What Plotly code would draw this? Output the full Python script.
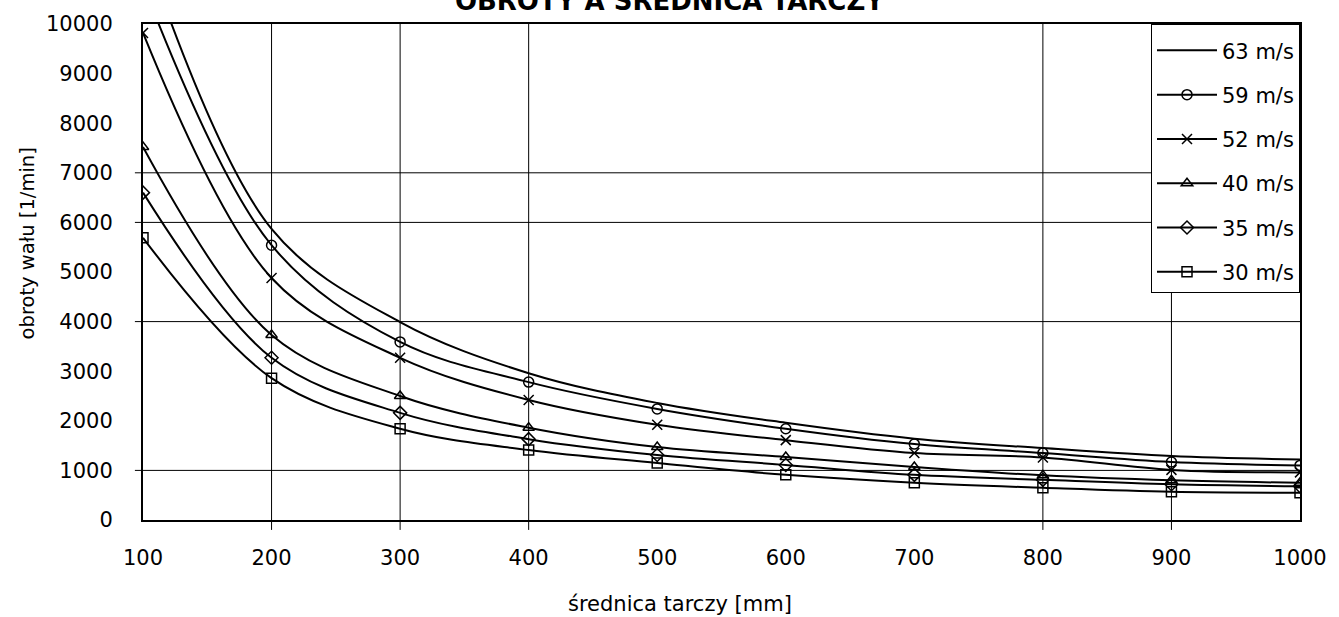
import plotly.graph_objects as go

# średnica tarczy [mm]
diameters = [100, 200, 300, 400, 500, 600, 700, 800, 900, 1000]

# obroty wału [1/min]
n_63 = [11600, 5870, 3990, 2960, 2360, 1960, 1640, 1450, 1290, 1220]
n_59 = [10800, 5540, 3590, 2780, 2240, 1840, 1530, 1350, 1170, 1100]
n_52 = [9820, 4880, 3270, 2420, 1920, 1610, 1350, 1260, 1010, 960]
n_40 = [7520, 3730, 2500, 1860, 1470, 1270, 1070, 900, 800, 750]
n_35 = [6600, 3270, 2160, 1630, 1310, 1110, 910, 810, 720, 680]
n_30 = [5690, 2860, 1840, 1410, 1150, 910, 750, 650, 570, 550]

series_names = ["63 m/s", "59 m/s", "52 m/s", "40 m/s", "35 m/s", "30 m/s"]
series_values = [n_63, n_59, n_52, n_40, n_35, n_30]
series_symbols = [None, "circle-open", "x-thin-open", "triangle-up-open", "diamond-open", "square-open"]

# only some grid lines survive in the original picture
grid_x = [200, 300, 400, 800, 900]
grid_y = [1000, 4000, 6000, 7000]

FONT = "DejaVu Sans"

fig = go.Figure()
for i, (name, vals, sym) in enumerate(zip(series_names, series_values, series_symbols)):
    if sym is None:
        fig.add_trace(go.Scatter(
            x=diameters, y=vals, name=name, mode="lines", legendgroup=str(i),
            line=dict(color="black", width=2, shape="spline", smoothing=1.0),
        ))
    else:
        fig.add_trace(go.Scatter(
            x=diameters, y=vals, name=name, mode="lines+markers", legendgroup=str(i),
            line=dict(color="black", width=2, shape="spline", smoothing=1.0),
            marker=dict(symbol=sym, size=10, color="black", line=dict(color="black", width=1.5)),
        ))

for gx in grid_x:
    fig.add_shape(type="line", xref="x", yref="y domain", x0=gx, x1=gx, y0=-0.02, y1=1,
                  line=dict(color="black", width=1), layer="below")
for gy in grid_y:
    fig.add_shape(type="line", xref="x domain", yref="y", x0=-0.007, x1=1, y0=gy, y1=gy,
                  line=dict(color="black", width=1), layer="below")

fig.update_layout(
    width=1339, height=617,
    margin=dict(l=143, r=35, t=24, b=97),
    paper_bgcolor="white", plot_bgcolor="white",
    font=dict(family=FONT, size=21, color="black"),
    title=dict(text="OBROTY A ŚREDNICA TARCZY", x=0.5, xanchor="center",
               y=1 - 10 / 617, yanchor="bottom", yref="container",
               font=dict(family=FONT, size=26, color="black", weight="bold")),
    showlegend=True,
    legend=dict(x=1, xanchor="right", y=1, yanchor="top",
                bgcolor="white", bordercolor="black", borderwidth=1,
                font=dict(family=FONT, size=21), tracegroupgap=14, itemwidth=60,
                title=dict(text=" ", font=dict(size=4))),
    annotations=[
        dict(text="średnica tarczy [mm]", xref="paper", yref="paper",
             x=(682 - 143) / 1161, y=(520 - 604) / 496, xanchor="center", yanchor="middle",
             showarrow=False, font=dict(family=FONT, size=21)),
        dict(text="obroty wału [1/min]", xref="paper", yref="paper", textangle=-90,
             x=(27 - 143) / 1161, y=(520 - 243) / 496, xanchor="center", yanchor="middle",
             showarrow=False, font=dict(family=FONT, size=19.5)),
    ],
)
fig.update_xaxes(range=[100, 1000], dtick=100, tick0=100, showgrid=False, zeroline=False,
                 showline=True, linecolor="black", linewidth=2, mirror=True,
                 ticks="", ticklabelstandoff=18)
fig.update_yaxes(range=[0, 10000], dtick=1000, tickformat="d", showgrid=False, zeroline=False,
                 showline=True, linecolor="black", linewidth=2, mirror=True,
                 ticks="", ticklabelstandoff=24)

fig.write_html("out.html", config={"displayModeBar": False},
               post_script="document.body.style.margin='0';")
